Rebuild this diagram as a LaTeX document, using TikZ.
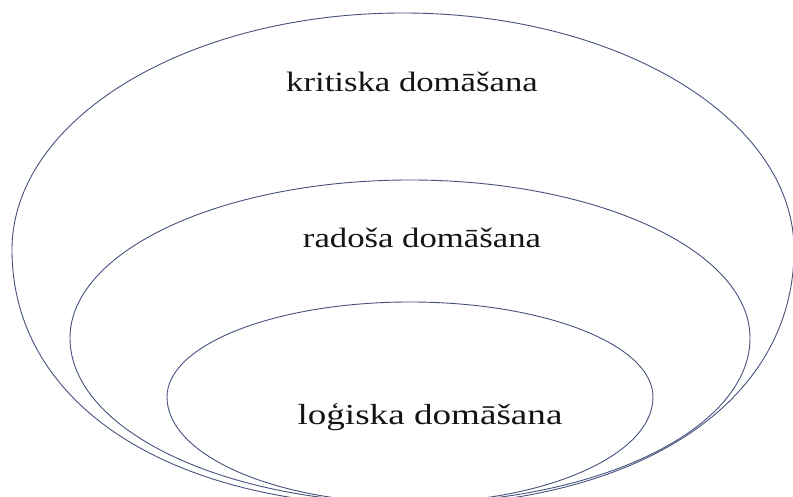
\documentclass[tikz,border=0pt]{standalone}
\usepackage{fontspec}
\setmainfont{Liberation Serif}
\definecolor{ringcol}{RGB}{70,82,125}
\definecolor{txtcol}{RGB}{20,20,20}
\begin{document}
\begin{tikzpicture}[x=1pt,y=1pt,
  ring/.style={draw=ringcol,line width=0.9pt},
  lbl/.style={anchor=base,inner sep=0pt,text=txtcol}]
\useasboundingbox (0,0) rectangle (793,497);
\fill[white] (0,0) rectangle (793,497);
% outer ring
\draw[ring] (794,247) arc[start angle=0,end angle=180,x radius=391,y radius=237]
  .. controls (12,93.4) and (168.4,-9) .. (403,-9)
  .. controls (637.6,-9) and (794,93.4) .. cycle;
% middle ring
\draw[ring] (750,159) arc[start angle=0,end angle=180,x radius=340,y radius=158]
  arc[start angle=180,end angle=360,x radius=340,y radius=165] -- cycle;
% inner ring
\draw[ring] (653,100) arc[start angle=0,end angle=180,x radius=243,y radius=95]
  arc[start angle=180,end angle=360,x radius=243,y radius=106] -- cycle;
\node[lbl,font=\fontsize{28}{32}\selectfont] (krit) at (412,405) {\scalebox{1.24}[1]{kritiska domāšana}};
\node[lbl,font=\fontsize{28}{32}\selectfont] (rad) at (422,249) {\scalebox{1.24}[1]{radoša domāšana}};
\node[lbl,font=\fontsize{29}{33}\selectfont] (log) at (430,72) {\scalebox{1.28}[1]{loģiska domāšana}};
\end{tikzpicture}
\end{document}
